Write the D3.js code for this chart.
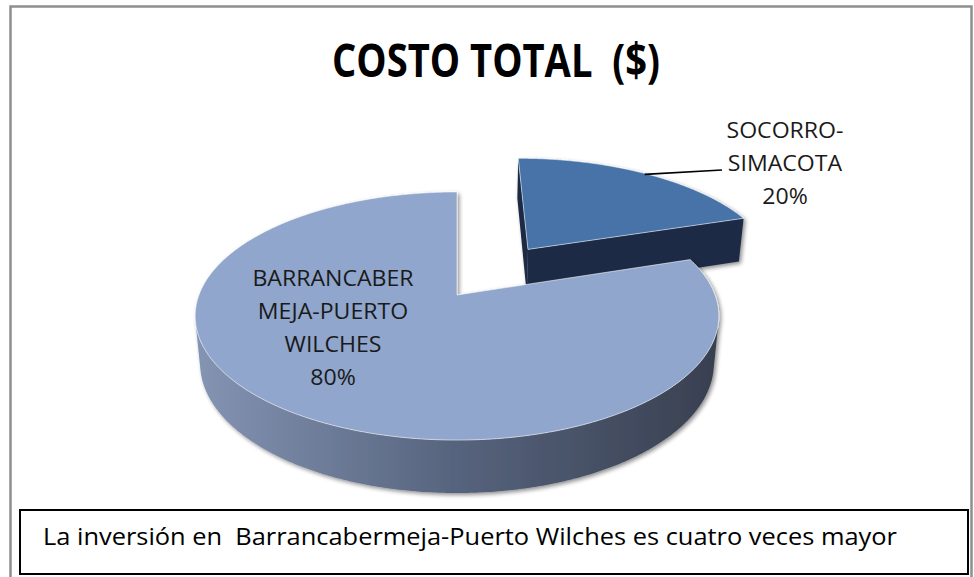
<!DOCTYPE html>
<html>
<head>
<meta charset="utf-8">
<script src="https://cdn.jsdelivr.net/npm/d3@7"></script>
<style>
body { margin: 0; background: #fff; }
svg text { font-family: "Open Sans", sans-serif; white-space: pre; }
</style>
</head>
<body>
<svg id="chart" width="974" height="577"></svg>
<script>
// ------- data -------
var categories = ["SOCORRO-SIMACOTA", "BARRANCABERMEJA-PUERTO WILCHES"];
var values = [20, 80];
var labelLines = [["SOCORRO-", "SIMACOTA"], ["BARRANCABER", "MEJA-PUERTO", "WILCHES"]];
var explode = [0.5, 0];
var titleText = "COSTO TOTAL  ($)";
var noteText = "La inversión en  Barrancabermeja-Puerto Wilches es cuatro veces mayor";

// ------- look -------
var topColor = ["#4673A8", "#90A6CD"];
var faceColor = ["#1C2B44", "#3F4A5E"];
var labelPos = [[785, 138], [333, 286]];   // first baseline of each label
var lineGap = 33;
var stretch = 1.1;                          // the original text is a bit wide

var svg = d3.select("#chart");
var defs = svg.append("defs");

var grad = defs.append("linearGradient")
    .attr("id", "sideGrad")
    .attr("gradientUnits", "userSpaceOnUse")
    .attr("x1", 196).attr("y1", 0).attr("x2", 720).attr("y2", 0);
grad.append("stop").attr("offset", 0).attr("stop-color", "#8494B3");
grad.append("stop").attr("offset", 0.5).attr("stop-color", "#56637D");
grad.append("stop").attr("offset", 1).attr("stop-color", "#383F4F");

var shadow = defs.append("filter").attr("id", "shadow")
    .attr("x", "-10%").attr("y", "-10%").attr("width", "120%").attr("height", "130%");
shadow.append("feGaussianBlur").attr("in", "SourceAlpha").attr("stdDeviation", 2).attr("result", "b");
shadow.append("feOffset").attr("in", "b").attr("dx", 2).attr("dy", 2).attr("result", "o");
shadow.append("feComponentTransfer").attr("in", "o").attr("result", "s")
    .append("feFuncA").attr("type", "linear").attr("slope", 0.45);
var merge = shadow.append("feMerge");
merge.append("feMergeNode").attr("in", "s");
merge.append("feMergeNode").attr("in", "SourceGraphic");

// outer chart frame
svg.append("rect")
    .attr("x", 10.5).attr("y", 6.5).attr("width", 961).attr("height", 620)
    .attr("fill", "none").attr("stroke", "#8E8E8E").attr("stroke-width", 2.5);

// title
svg.append("text")
    .attr("x", 332).attr("y", 77)
    .attr("textLength", 328).attr("lengthAdjust", "spacingAndGlyphs")
    .style("font-size", "47px").style("font-weight", "bold")
    .attr("fill", "#000")
    .text(titleText);

// ------- 3d pie: simple perspective camera -------
var cam = { cx: 457, cy: 295, f: 1347, D: 5.22, tilt: Math.asin(0.467), h: 0.209 };
var sT = Math.sin(cam.tilt), cT = Math.cos(cam.tilt);

function project(X, Y, Z) {
    var u = -Z * sT + Y * cT;
    var d = cam.D - Z * cT - Y * sT;
    return [cam.cx + cam.f * X / d, cam.cy - cam.f * u / d];
}
function rim(s, a, y, r) {
    r = r == null ? 1 : r;
    return project(s.ox + r * Math.sin(a), y, s.oz - r * Math.cos(a));
}
function arcPts(s, a0, a1, y) {
    var n = Math.max(2, Math.ceil(Math.abs(a1 - a0) / (Math.PI / 360)));
    return d3.range(n + 1).map(function (i) {
        return rim(s, a0 + (a1 - a0) * i / n, y);
    });
}
// can the camera see a vertical face with outward normal (nx, nz) through point (px, pz)?
function facing(nx, nz, px, pz) {
    return nx * (0 - px) + nz * (cam.D * cT - pz) > 0;
}

var poly = d3.line().curve(d3.curveLinearClosed);

var slices = d3.pie().sort(null).value(function (d) { return d; })(values)
    .map(function (p, i) {
        var mid = (p.startAngle + p.endAngle) / 2;
        return {
            i: i, a0: p.startAngle, a1: p.endAngle, mid: mid,
            ox: explode[i] * Math.sin(mid), oz: -explode[i] * Math.cos(mid)
        };
    });

// back slice first (the exploded one sits behind)
var order = slices.slice().sort(function (a, b) { return a.oz - b.oz; });

order.forEach(function (s) {
    var g = svg.append("g").attr("filter", "url(#shadow)");
    var h = -cam.h;

    // curved side, only the runs that face the camera
    var step = Math.PI / 360, run = [];
    var runs = [];
    for (var a = s.a0; a <= s.a1 + 1e-9; a += step) {
        var ang = Math.min(a, s.a1);
        var vis = facing(Math.sin(ang), -Math.cos(ang), s.ox + Math.sin(ang), s.oz - Math.cos(ang));
        if (vis) run.push(ang);
        else if (run.length) { runs.push(run); run = []; }
    }
    if (run.length) runs.push(run);
    runs.forEach(function (r) {
        var topP = r.map(function (a) { return rim(s, a, 0); });
        var botP = r.map(function (a) { return rim(s, a, h); }).reverse();
        g.append("path")
            .attr("d", poly(topP.concat(botP)))
            .attr("fill", s.i === 1 ? "url(#sideGrad)" : faceColor[s.i]);
    });

    // flat radial faces
    [[s.a0, -1], [s.a1, 1]].forEach(function (e) {
        var a = e[0], nx = e[1] * Math.cos(a), nz = e[1] * Math.sin(a);
        if (!facing(nx, nz, s.ox, s.oz)) return;
        var pts = [project(s.ox, 0, s.oz), rim(s, a, 0), rim(s, a, h), project(s.ox, h, s.oz)];
        g.append("path").attr("d", poly(pts)).attr("fill", faceColor[s.i]);
    });

    // top face
    var topPts = [project(s.ox, 0, s.oz)].concat(arcPts(s, s.a0, s.a1, 0));
    g.append("path")
        .attr("d", poly(topPts))
        .attr("fill", topColor[s.i])
        .attr("stroke", "rgba(255,255,255,0.55)")
        .attr("stroke-width", 1);
});

// ------- labels -------
var total = d3.sum(values);
var pct = d3.format(".0%");

slices.forEach(function (s) {
    var lines = labelLines[s.i].concat([pct(values[s.i] / total)]);
    var t = svg.append("text")
        .attr("transform", "translate(" + labelPos[s.i][0] + "," + labelPos[s.i][1] + ") scale(" + stretch + ",1)")
        .attr("text-anchor", "middle")
        .style("font-size", "21px")
        .attr("fill", "#1a1a1a");
    lines.forEach(function (ln, k) {
        t.append("tspan")
            .attr("x", 0)
            .attr("y", k * lineGap)
            .text(ln);
    });
});

// leader line for the exploded slice
var s0 = slices[0];
var startPt = rim(s0, s0.mid, 0, 0.99);
svg.append("path")
    .attr("d", d3.line()([startPt, [722, 170]]))
    .attr("stroke", "#000").attr("stroke-width", 1.6).attr("fill", "none");

// ------- note box -------
svg.append("rect")
    .attr("x", 20).attr("y", 510).attr("width", 948).attr("height", 64)
    .attr("fill", "#fff").attr("stroke", "#000").attr("stroke-width", 2);
svg.append("text")
    .attr("x", 43).attr("y", 545)
    .attr("textLength", 854).attr("lengthAdjust", "spacingAndGlyphs")
    .style("font-size", "24px")
    .attr("fill", "#000")
    .text(noteText);
</script>
</body>
</html>
